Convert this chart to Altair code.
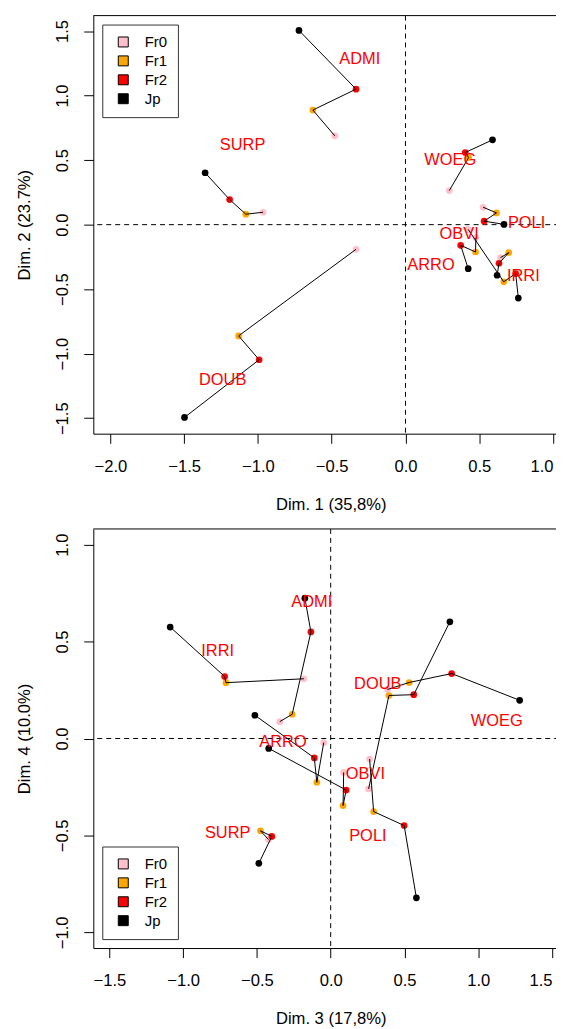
import altair as alt
import pandas as pd

FONT = "Liberation Sans"
FS = 16.67

words = ["ADMI", "SURP", "DOUB", "WOEG", "POLI", "ARRO", "OBVI", "IRRI"]
groups = ["Fr0", "Fr1", "Fr2", "Jp"]
group_colors = ["#FFC0CB", "#FFA500", "#FF0000", "#000000"]

# ---------- Panel 1 : Dim 1 x Dim 2 (order of words as in `words`)
p1_fr0_x = [-0.479, -0.965, -0.335, 0.297, 0.526, 0.477, 0.425, 0.644]
p1_fr0_y = [0.688, 0.096, -0.191, 0.264, 0.135, -0.102, -0.037, -0.256]
p1_fr1_x = [-0.628, -1.082, -1.131, 0.428, 0.617, 0.475, 0.666, 0.700]
p1_fr1_y = [0.888, 0.081, -0.862, 0.520, 0.091, -0.212, -0.443, -0.217]
p1_fr2_x = [-0.335, -1.192, -0.992, 0.405, 0.533, 0.374, 0.747, 0.634]
p1_fr2_y = [1.050, 0.194, -1.047, 0.559, 0.027, -0.160, -0.379, -0.299]
p1_jp_x = [-0.722, -1.358, -1.498, 0.590, 0.668, 0.425, 0.765, 0.621]
p1_jp_y = [1.505, 0.402, -1.494, 0.657, 0.002, -0.341, -0.569, -0.392]
p1_label_x = [-0.310, -1.104, -1.239, 0.304, 0.821, 0.173, 0.364, 0.799]
p1_label_y = [1.286, 0.618, -1.201, 0.503, 0.014, -0.315, -0.076, -0.397]

# ---------- Panel 2 : Dim 3 x Dim 4
p2_fr0_x = [-0.345, -0.422, 0.257, 0.385, 0.264, -0.047, 0.088, -0.182]
p2_fr0_y = [0.087, -0.521, -0.260, 0.253, -0.106, -0.021, -0.175, 0.308]
p2_fr1_x = [-0.261, -0.476, 0.395, 0.532, 0.291, -0.094, 0.084, -0.710]
p2_fr1_y = [0.125, -0.476, 0.222, 0.289, -0.377, -0.226, -0.346, 0.288]
p2_fr2_x = [-0.134, -0.399, 0.563, 0.820, 0.498, -0.111, 0.105, -0.719]
p2_fr2_y = [0.550, -0.505, 0.226, 0.335, -0.449, -0.100, -0.266, 0.320]
p2_jp_x = [-0.175, -0.487, 0.808, 1.281, 0.581, -0.514, -0.420, -1.088]
p2_jp_y = [0.724, -0.644, 0.602, 0.197, -0.822, 0.120, -0.051, 0.575]
p2_label_x = [-0.128, -0.698, 0.319, 1.126, 0.252, -0.323, 0.235, -0.766]
p2_label_y = [0.702, -0.486, 0.282, 0.089, -0.503, -0.017, -0.183, 0.450]

p1_x_ticks = [-2.0, -1.5, -1.0, -0.5, 0.0, 0.5, 1.0]
p1_y_ticks = [-1.5, -1.0, -0.5, 0.0, 0.5, 1.0, 1.5]
p2_x_ticks = [-1.5, -1.0, -0.5, 0.0, 0.5, 1.0, 1.5]
p2_y_ticks = [-1.0, -0.5, 0.0, 0.5, 1.0]


def long_table(xs, ys):
    rows = []
    for gi, g in enumerate(groups):
        for wi, w in enumerate(words):
            rows.append({"word": w, "group": g, "ord": gi, "x": xs[gi][wi], "y": ys[gi][wi]})
    return pd.DataFrame(rows)


def panel(df, lab, xdom, ydom, xticks, yticks, xtitle, ytitle, w, h, lorient):
    xs = alt.Scale(domain=xdom, nice=False, zero=False)
    ys = alt.Scale(domain=ydom, nice=False, zero=False)
    last = xticks[-1]
    xaxis = alt.Axis(values=xticks, format=".1f", title=xtitle, grid=False,
                     labelAlign={"condition": {"test": "datum.value >= %s" % (last - 0.01),
                                               "value": "right"},
                                 "value": "center"},
                     tickSize=9.6, tickColor="black", domainColor="black",
                     labelFont=FONT, labelFontSize=FS, labelColor="black",
                     labelPadding=15, labelFlush=False, labelOverlap=False,
                     titleFont=FONT, titleFontSize=FS, titleFontWeight="normal",
                     titleColor="black", titlePadding=21.7)
    yaxis = alt.Axis(values=yticks, format=".1f", title=ytitle, grid=False,
                     tickSize=9.6, tickColor="black", domainColor="black",
                     labelFont=FONT, labelFontSize=FS, labelColor="black",
                     labelAngle=270, labelAlign="center", labelBaseline="bottom",
                     labelPadding=12.1, labelFlush=False, labelOverlap=False,
                     titleFont=FONT, titleFontSize=FS, titleFontWeight="normal",
                     titleColor="black", titlePadding=21.7, titleAngle=270,
                     titleBaseline="bottom")
    one = pd.DataFrame({"z": [0]})
    vzero = alt.Chart(one).mark_rule(color="black", strokeWidth=1, strokeDash=[5, 4]).encode(
        x=alt.datum(0, scale=xs))
    hzero = alt.Chart(one).mark_rule(color="black", strokeWidth=1, strokeDash=[5, 4]).encode(
        y=alt.datum(0, scale=ys))
    top = alt.Chart(one).mark_rule(color="black", strokeWidth=1).encode(y=alt.value(0))
    pts = alt.Chart(df).mark_circle(size=45, opacity=1).encode(
        x=alt.X("x:Q", scale=xs, axis=xaxis),
        y=alt.Y("y:Q", scale=ys, axis=yaxis),
        color=alt.Color("group:N", scale=alt.Scale(domain=groups, range=group_colors),
                        legend=alt.Legend(title=None, orient=lorient, offset=9, padding=10,
                                          symbolType="square", symbolSize=100,
                                          symbolStrokeColor="black", symbolStrokeWidth=1,
                                          labelFont=FONT, labelFontSize=15, labelColor="black",
                                          rowPadding=3, labelOffset=14, symbolOffset=3.6,
                                          strokeColor="#333333", fillColor="white",
                                          cornerRadius=0)),
        order=alt.Order("ord:Q"),
    )
    lines = alt.Chart(df).mark_line(color="black", strokeWidth=1).encode(
        x="x:Q", y="y:Q", detail="word:N", order="ord:Q")
    texts = alt.Chart(lab).mark_text(color="#FF0000", font=FONT, fontSize=16.5,
                                     align="center", baseline="middle").encode(
        x="x:Q", y="y:Q", text="word:N")
    return alt.layer(vzero, hzero, pts, lines, texts, top).properties(width=w, height=h)


df1 = long_table([p1_fr0_x, p1_fr1_x, p1_fr2_x, p1_jp_x], [p1_fr0_y, p1_fr1_y, p1_fr2_y, p1_jp_y])
lab1 = pd.DataFrame({"word": words, "x": p1_label_x, "y": p1_label_y})
df2 = long_table([p2_fr0_x, p2_fr1_x, p2_fr2_x, p2_jp_x], [p2_fr0_y, p2_fr1_y, p2_fr2_y, p2_jp_y])
lab2 = pd.DataFrame({"word": words, "x": p2_label_x, "y": p2_label_y})

c1 = panel(df1, lab1, [-2.116, 1.1026], [-1.62, 1.62], p1_x_ticks, p1_y_ticks,
           "Dim. 1 (35,8%)", "Dim. 2 (23.7%)", 477, 420, "top-left")
c2 = panel(df2, lab2, [-1.609, 1.6096], [-1.081, 1.081], p2_x_ticks, p2_y_ticks,
           "Dim. 3 (17,8%)", "Dim. 4 (10.0%)", 477, 421, "bottom-left")

chart = alt.vconcat(c1, c2, spacing=95.7, bounds="flush").resolve_scale(
    color="independent").properties(
    padding={"left": 7.7, "top": 4.3, "right": -13.2, "bottom": 0},
    background="white",
).configure_view(strokeWidth=0)

chart.save("out.html", embed_options={"renderer": "svg", "actions": False})
